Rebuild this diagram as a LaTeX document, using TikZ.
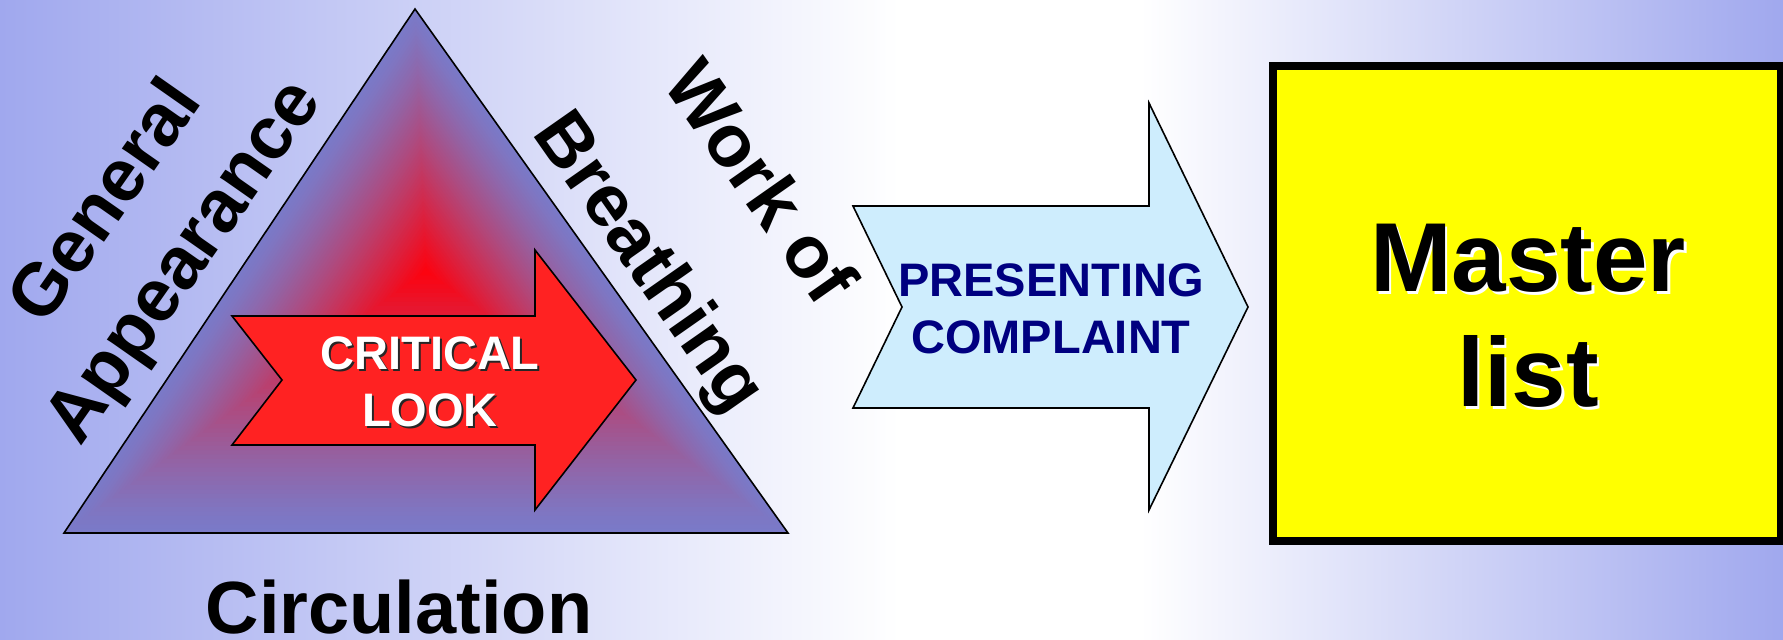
\documentclass[tikz,border=0pt]{standalone}
\usepackage{fontspec}
\setmainfont{Liberation Sans}
\usetikzlibrary{calc}

\definecolor{bgblue}{RGB}{160,168,238}
\definecolor{triblue}{RGB}{122,122,200}
\definecolor{trired}{RGB}{255,0,12}
\definecolor{critred}{RGB}{255,34,34}
\definecolor{pcblue}{RGB}{206,237,253}
\definecolor{pcnavy}{RGB}{0,0,128}
\definecolor{mlyellow}{RGB}{255,255,0}

\tikzset{
  edge/.style={draw=black, line width=0.8pt, line join=miter},
  side label/.style={font=\fontsize{37}{49}\selectfont\bfseries, anchor=base, inner sep=0pt},
  arrow text/.style={font=\fontsize{23.5}{28.5}\selectfont\bfseries, align=center, anchor=base, inner sep=0pt},
  master text/.style={font=\fontsize{49}{57.5}\selectfont\bfseries, align=center, anchor=base, inner sep=0pt}
}

\begin{document}
\begin{tikzpicture}[x=0.5pt, y=-0.5pt]
  % Background
  \useasboundingbox (0,0) rectangle (1783,640);
  \shade[left color=bgblue, right color=white] (0,0) rectangle (900,640);
  \fill[white] (899,0) rectangle (1141,640);
  \shade[left color=white, right color=bgblue] (1140,0) rectangle (1783,640);

  % Triangle
  \coordinate (apex) at (415,9);
  \coordinate (bl) at (64,533);
  \coordinate (br) at (788,533);
  \coordinate (mid) at (426,271);
  \foreach \i in {0,...,60}{
    \pgfmathsetmacro{\t}{1-\i/60}
    \pgfmathsetmacro{\r}{100*(\i/60)^1.25}
    \fill[trired!\r!triblue] ($(mid)!\t!(apex)$) -- ($(mid)!\t!(bl)$) -- ($(mid)!\t!(br)$) -- cycle;
  }
  \draw[edge] (apex) -- (bl) -- (br) -- cycle;

  % Critical look arrow
  \draw[edge, fill=critred] (232,316) -- (535,316) -- (535,250) -- (636,380)
    -- (535,510) -- (535,445) -- (232,445) -- (282,380) -- cycle;
  \node[arrow text, black!85] (crit-sh) at (432,429) {CRITICAL\\LOOK};
  \node[arrow text, white] (crit) at (430,427) {CRITICAL\\LOOK};

  % Labels round the triangle
  \node[side label, rotate=55] (gen) at (124,214.5) {General};
  \node[side label, rotate=55] (app) at (201.5,274) {Appearance};
  \node[side label, rotate=-55] (work) at (740,196) {Work of};
  \node[side label, rotate=-55] (breath) at (631,275) {Breathing};
  \node[side label] (circ) at (399,633) {Circulation};

  % Presenting complaint arrow
  \draw[edge, fill=pcblue] (853,206) -- (1149,206) -- (1149,103) -- (1248,307)
    -- (1149,510) -- (1149,408) -- (853,408) -- (902,307) -- cycle;
  \node[arrow text, pcnavy] (pc) at (1051,354) {PRESENTING\\COMPLAINT};

  % Master list
  \draw[line width=4pt, fill=mlyellow] (1273,66) rectangle (1781,541);
  \node[master text, white] (ml-sh) at (1530.5,409.5) {Master\\list};
  \node[master text] (ml) at (1528,407) {Master\\list};
\end{tikzpicture}
\end{document}
